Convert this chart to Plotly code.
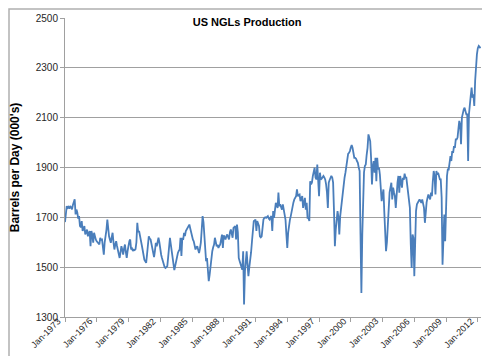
import pandas as pd
import plotly.graph_objects as go

# Monthly US NGL production, barrels per day (000's), Jan-1973 onward
y1973 = [1681, 1740, 1745, 1738, 1742, 1735, 1745, 1740, 1732, 1750, 1760, 1772]
y1974 = [1712, 1731, 1720, 1695, 1705, 1665, 1660, 1685, 1645, 1660, 1665, 1631]
y1975 = [1640, 1651, 1624, 1640, 1645, 1584, 1645, 1630, 1598, 1638, 1620, 1610]
y1976 = [1604, 1600, 1598, 1591, 1618, 1610, 1611, 1580, 1550, 1600, 1618, 1650]
y1977 = [1691, 1650, 1624, 1610, 1598, 1620, 1638, 1600, 1571, 1590, 1604, 1585]
y1978 = [1564, 1550, 1537, 1560, 1584, 1570, 1550, 1575, 1591, 1560, 1537, 1565]
y1979 = [1591, 1605, 1611, 1571, 1575, 1565, 1570, 1568, 1572, 1600, 1678, 1640]
y1980 = [1645, 1630, 1611, 1590, 1571, 1545, 1530, 1524, 1517, 1550, 1590, 1624]
y1981 = [1615, 1611, 1595, 1578, 1560, 1540, 1565, 1598, 1584, 1610, 1618, 1600]
y1982 = [1564, 1550, 1537, 1525, 1510, 1500, 1497, 1502, 1504, 1540, 1571, 1618]
y1983 = [1590, 1560, 1537, 1510, 1488, 1505, 1524, 1540, 1557, 1565, 1571, 1618]
y1984 = [1545, 1618, 1610, 1638, 1625, 1645, 1651, 1660, 1665, 1671, 1655, 1638]
y1985 = [1625, 1610, 1604, 1590, 1571, 1580, 1584, 1570, 1557, 1575, 1598, 1650]
y1986 = [1705, 1680, 1620, 1540, 1524, 1537, 1500, 1444, 1470, 1510, 1540, 1564]
y1987 = [1580, 1591, 1618, 1600, 1584, 1590, 1577, 1585, 1591, 1610, 1631, 1577]
y1988 = [1628, 1620, 1611, 1625, 1631, 1620, 1611, 1640, 1651, 1635, 1618, 1658]
y1989 = [1660, 1665, 1611, 1671, 1640, 1537, 1525, 1510, 1500, 1490, 1564, 1350]
y1990 = [1484, 1520, 1564, 1510, 1464, 1500, 1524, 1560, 1604, 1640, 1685, 1688]
y1991 = [1691, 1645, 1685, 1675, 1665, 1624, 1620, 1624, 1660, 1691, 1698, 1700]
y1992 = [1698, 1700, 1705, 1695, 1691, 1700, 1705, 1645, 1725, 1698, 1745, 1758]
y1993 = [1750, 1738, 1799, 1745, 1752, 1740, 1731, 1752, 1731, 1705, 1690, 1631]
y1994 = [1577, 1640, 1671, 1690, 1705, 1730, 1745, 1760, 1772, 1780, 1785, 1812]
y1995 = [1785, 1790, 1792, 1765, 1775, 1785, 1738, 1760, 1778, 1731, 1758, 1698]
y1996 = [1698, 1685, 1845, 1832, 1840, 1866, 1880, 1899, 1860, 1852, 1912, 1852]
y1997 = [1785, 1879, 1852, 1855, 1859, 1866, 1860, 1852, 1832, 1800, 1738, 1839]
y1998 = [1850, 1859, 1866, 1860, 1839, 1725, 1584, 1650, 1711, 1725, 1700, 1631]
y1999 = [1705, 1740, 1778, 1800, 1832, 1860, 1879, 1906, 1946, 1955, 1959, 1966]
y2000 = [1980, 1990, 1979, 1960, 1939, 1939, 1935, 1926, 1919, 1900, 1886, 1631]
y2001 = [1396, 1631, 1819, 1880, 1906, 1912, 1950, 1979, 2033, 2020, 2006, 1939]
y2002 = [1832, 1906, 1926, 1879, 1939, 1845, 1939, 1892, 1900, 1872, 1800, 1765]
y2003 = [1790, 1812, 1725, 1631, 1564, 1600, 1685, 1765, 1800, 1819, 1839, 1772]
y2004 = [1819, 1800, 1785, 1738, 1805, 1840, 1866, 1799, 1866, 1840, 1819, 1859]
y2005 = [1850, 1875, 1859, 1859, 1832, 1800, 1785, 1738, 1591, 1497, 1631, 1618]
y2006 = [1464, 1685, 1725, 1752, 1760, 1765, 1772, 1765, 1758, 1772, 1750, 1738]
y2007 = [1678, 1738, 1760, 1778, 1792, 1780, 1772, 1799, 1785, 1845, 1886, 1866]
y2008 = [1792, 1886, 1872, 1879, 1860, 1852, 1852, 1780, 1510, 1640, 1711, 1604]
y2009 = [1778, 1866, 1892, 1892, 1919, 1946, 1926, 1966, 1959, 1986, 1979, 2013]
y2010 = [2013, 2020, 2053, 2087, 2073, 1993, 2100, 2120, 2133, 2140, 2127, 2113]
y2011 = [2113, 1926, 2113, 2167, 2187, 2221, 2180, 2194, 2147, 2248, 2314, 2354]
y2012 = [2379, 2388, 2384, 2379]

production = (y1973 + y1974 + y1975 + y1976 + y1977 + y1978 + y1979 + y1980 + y1981
              + y1982 + y1983 + y1984 + y1985 + y1986 + y1987 + y1988 + y1989 + y1990
              + y1991 + y1992 + y1993 + y1994 + y1995 + y1996 + y1997 + y1998 + y1999
              + y2000 + y2001 + y2002 + y2003 + y2004 + y2005 + y2006 + y2007 + y2008
              + y2009 + y2010 + y2011 + y2012)
months = pd.date_range("1973-01-01", periods=len(production), freq="MS")

x_tick_dates = ["1973-01-01", "1976-01-01", "1979-01-01", "1982-01-01", "1985-01-01",
                "1988-01-01", "1991-01-01", "1994-01-01", "1997-01-01", "2000-01-01",
                "2003-01-01", "2006-01-01", "2009-01-01", "2012-01-01"]
x_tick_labels = ["Jan-1973", "Jan-1976", "Jan-1979", "Jan-1982", "Jan-1985",
                 "Jan-1988", "Jan-1991", "Jan-1994", "Jan-1997", "Jan-2000",
                 "Jan-2003", "Jan-2006", "Jan-2009", "Jan-2012"]
y_ticks = [1300, 1500, 1700, 1900, 2100, 2300, 2500]

W, H = 490, 356
ML, MR, MT, MB = 57, 17, 10, 47
pw, ph = W - ML - MR, H - MT - MB

fig = go.Figure()
fig.add_trace(go.Scatter(
    x=months, y=production, mode="lines",
    line=dict(color="#4a7ebb", width=1.8),
    hoverinfo="x+y",
))

grid = "#a0a0a0"
fig.update_layout(
    width=W, height=H,
    margin=dict(l=ML, r=MR, t=MT, b=MB, autoexpand=False),
    paper_bgcolor="white", plot_bgcolor="white",
    showlegend=False,
    font=dict(family="Liberation Sans, Arial, sans-serif", size=10, color="#262626"),
    title=dict(text="<b>US NGLs Production</b>", x=0.488, xref="container",
               y=1 - 14 / H, yref="container", xanchor="center", yanchor="middle",
               font=dict(size=11, color="#000000")),
    xaxis=dict(
        type="date", automargin=False,
        range=["1973-01-01", "2012-04-20"],
        tickvals=x_tick_dates, showticklabels=False,
        ticks="outside", ticklen=4, tickcolor=grid,
        showgrid=False, showline=True, linecolor=grid, linewidth=1,
    ),
    yaxis=dict(
        automargin=False,
        range=[1300, 2500], tickvals=y_ticks,
        showgrid=True, gridcolor=grid, gridwidth=1,
        showline=True, linecolor=grid, linewidth=1,
        ticks="outside", ticklen=4, tickcolor=grid,
        zeroline=False,
        title=dict(text="<b>Barrels per Day (000's)</b>", standoff=13,
                   font=dict(size=12, color="#000000")),
        tickfont=dict(size=10, color="#262626"),
    ),
)

# rotated x tick labels (centre of each label placed below-left of its tick)
for d, lab in zip(x_tick_dates, x_tick_labels):
    fig.add_annotation(x=d, xref="x", y=0, yref="paper", text=lab,
                       textangle=-45, xanchor="center", yanchor="middle",
                       xshift=-19, yshift=-16, showarrow=False,
                       font=dict(size=9, color="#262626"))

# outer chart border
fig.add_shape(type="rect", xref="paper", yref="paper",
              x0=(1 - ML) / pw, x1=(W - 1 - ML) / pw,
              y0=(MT + ph - (H - 1)) / ph, y1=(MT + ph - 1) / ph,
              line=dict(color="#b0b0b0", width=1.5), fillcolor="rgba(0,0,0,0)",
              layer="below")

fig.write_html("out.html")
